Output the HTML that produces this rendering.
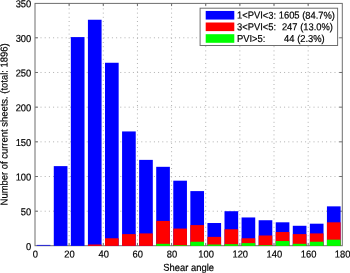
<!DOCTYPE html>
<html><head><meta charset="utf-8"><style>
html,body{margin:0;padding:0;background:#fff;width:350px;height:273px;overflow:hidden}
svg{display:block;will-change:transform;}
text{font-family:"Liberation Sans",sans-serif;font-size:9.4px;fill:#000;stroke:#000;stroke-width:0.18px;text-rendering:geometricPrecision;font-kerning:none}
</style></head><body>
<svg width="350" height="273" viewBox="0 0 350 273">
<rect x="0" y="0" width="350" height="273" fill="#fff"/>
<g stroke="#b0b0b0" stroke-width="1" stroke-dasharray="1 3.2" stroke-dashoffset="2.9" fill="none"><line x1="69.14" y1="245.90" x2="69.14" y2="3.10"/><line x1="103.29" y1="245.90" x2="103.29" y2="3.10"/><line x1="137.43" y1="245.90" x2="137.43" y2="3.10"/><line x1="171.58" y1="245.90" x2="171.58" y2="3.10"/><line x1="205.72" y1="245.90" x2="205.72" y2="3.10"/><line x1="239.87" y1="245.90" x2="239.87" y2="3.10"/><line x1="274.01" y1="245.90" x2="274.01" y2="3.10"/><line x1="308.16" y1="245.90" x2="308.16" y2="3.10"/><line x1="35.00" y1="211.21" x2="342.30" y2="211.21"/><line x1="35.00" y1="176.53" x2="342.30" y2="176.53"/><line x1="35.00" y1="141.84" x2="342.30" y2="141.84"/><line x1="35.00" y1="107.16" x2="342.30" y2="107.16"/><line x1="35.00" y1="72.47" x2="342.30" y2="72.47"/><line x1="35.00" y1="37.79" x2="342.30" y2="37.79"/></g>
<g stroke="#6e6e6e" stroke-width="1" fill="none"><rect x="35.00" y="3.40" width="307.30" height="242.30"/><line x1="69.14" y1="245.90" x2="69.14" y2="242.90"/><line x1="69.14" y1="3.10" x2="69.14" y2="6.10"/><line x1="103.29" y1="245.90" x2="103.29" y2="242.90"/><line x1="103.29" y1="3.10" x2="103.29" y2="6.10"/><line x1="137.43" y1="245.90" x2="137.43" y2="242.90"/><line x1="137.43" y1="3.10" x2="137.43" y2="6.10"/><line x1="171.58" y1="245.90" x2="171.58" y2="242.90"/><line x1="171.58" y1="3.10" x2="171.58" y2="6.10"/><line x1="205.72" y1="245.90" x2="205.72" y2="242.90"/><line x1="205.72" y1="3.10" x2="205.72" y2="6.10"/><line x1="239.87" y1="245.90" x2="239.87" y2="242.90"/><line x1="239.87" y1="3.10" x2="239.87" y2="6.10"/><line x1="274.01" y1="245.90" x2="274.01" y2="242.90"/><line x1="274.01" y1="3.10" x2="274.01" y2="6.10"/><line x1="308.16" y1="245.90" x2="308.16" y2="242.90"/><line x1="308.16" y1="3.10" x2="308.16" y2="6.10"/><line x1="35.00" y1="211.21" x2="38.00" y2="211.21"/><line x1="342.30" y1="211.21" x2="339.30" y2="211.21"/><line x1="35.00" y1="176.53" x2="38.00" y2="176.53"/><line x1="342.30" y1="176.53" x2="339.30" y2="176.53"/><line x1="35.00" y1="141.84" x2="38.00" y2="141.84"/><line x1="342.30" y1="141.84" x2="339.30" y2="141.84"/><line x1="35.00" y1="107.16" x2="38.00" y2="107.16"/><line x1="342.30" y1="107.16" x2="339.30" y2="107.16"/><line x1="35.00" y1="72.47" x2="38.00" y2="72.47"/><line x1="342.30" y1="72.47" x2="339.30" y2="72.47"/><line x1="35.00" y1="37.79" x2="38.00" y2="37.79"/><line x1="342.30" y1="37.79" x2="339.30" y2="37.79"/></g>
<g><rect x="36.71" y="244.90" width="13.66" height="1.0" fill="#2626d8"/><rect x="53.78" y="166.12" width="13.66" height="79.78" fill="#0000ff"/><rect x="70.85" y="37.09" width="13.66" height="208.81" fill="#0000ff"/><rect x="87.92" y="19.75" width="13.66" height="226.15" fill="#0000ff"/><rect x="87.92" y="244.51" width="13.66" height="1.39" fill="#ff0000"/><rect x="105.00" y="62.76" width="13.66" height="183.14" fill="#0000ff"/><rect x="105.00" y="238.27" width="13.66" height="7.63" fill="#ff0000"/><rect x="122.07" y="131.44" width="13.66" height="114.46" fill="#0000ff"/><rect x="122.07" y="234.11" width="13.66" height="11.79" fill="#ff0000"/><rect x="139.14" y="159.88" width="13.66" height="86.02" fill="#0000ff"/><rect x="139.14" y="233.41" width="13.66" height="12.49" fill="#ff0000"/><rect x="156.21" y="166.82" width="13.66" height="79.08" fill="#0000ff"/><rect x="156.21" y="220.93" width="13.66" height="24.97" fill="#ff0000"/><rect x="156.21" y="243.82" width="13.66" height="2.08" fill="#00ff00"/><rect x="173.28" y="180.69" width="13.66" height="65.21" fill="#0000ff"/><rect x="173.28" y="228.56" width="13.66" height="17.34" fill="#ff0000"/><rect x="173.28" y="245.21" width="13.66" height="0.69" fill="#00ff00"/><rect x="190.36" y="191.10" width="13.66" height="54.80" fill="#0000ff"/><rect x="190.36" y="225.09" width="13.66" height="20.81" fill="#ff0000"/><rect x="190.36" y="241.74" width="13.66" height="4.16" fill="#00ff00"/><rect x="207.43" y="223.01" width="13.66" height="22.89" fill="#0000ff"/><rect x="207.43" y="236.88" width="13.66" height="9.02" fill="#ff0000"/><rect x="207.43" y="244.51" width="13.66" height="1.39" fill="#00ff00"/><rect x="224.50" y="211.21" width="13.66" height="34.69" fill="#0000ff"/><rect x="224.50" y="229.25" width="13.66" height="16.65" fill="#ff0000"/><rect x="224.50" y="244.17" width="13.66" height="1.73" fill="#00ff00"/><rect x="241.57" y="217.46" width="13.66" height="28.44" fill="#0000ff"/><rect x="241.57" y="238.27" width="13.66" height="7.63" fill="#ff0000"/><rect x="241.57" y="243.13" width="13.66" height="2.77" fill="#00ff00"/><rect x="258.65" y="220.23" width="13.66" height="25.67" fill="#0000ff"/><rect x="258.65" y="235.49" width="13.66" height="10.41" fill="#ff0000"/><rect x="258.65" y="245.21" width="13.66" height="0.69" fill="#00ff00"/><rect x="275.72" y="222.31" width="13.66" height="23.59" fill="#0000ff"/><rect x="275.72" y="232.03" width="13.66" height="13.87" fill="#ff0000"/><rect x="275.72" y="241.04" width="13.66" height="4.86" fill="#00ff00"/><rect x="292.79" y="225.78" width="13.66" height="20.12" fill="#0000ff"/><rect x="292.79" y="234.11" width="13.66" height="11.79" fill="#ff0000"/><rect x="292.79" y="243.82" width="13.66" height="2.08" fill="#00ff00"/><rect x="309.86" y="223.70" width="13.66" height="22.20" fill="#0000ff"/><rect x="309.86" y="233.41" width="13.66" height="12.49" fill="#ff0000"/><rect x="309.86" y="241.74" width="13.66" height="4.16" fill="#00ff00"/><rect x="326.94" y="206.36" width="13.66" height="39.54" fill="#0000ff"/><rect x="326.94" y="222.31" width="13.66" height="23.59" fill="#ff0000"/><rect x="326.94" y="239.66" width="13.66" height="6.24" fill="#00ff00"/></g>
<text transform="matrix(1 0.001 0 1.07 31.30 250.00)" text-anchor="end">0</text><text transform="matrix(1 0.001 0 1.07 31.30 215.31)" text-anchor="end">50</text><text transform="matrix(1 0.001 0 1.07 31.30 180.63)" text-anchor="end">100</text><text transform="matrix(1 0.001 0 1.07 31.30 145.94)" text-anchor="end">150</text><text transform="matrix(1 0.001 0 1.07 31.30 111.26)" text-anchor="end">200</text><text transform="matrix(1 0.001 0 1.07 31.30 76.57)" text-anchor="end">250</text><text transform="matrix(1 0.001 0 1.07 31.30 41.89)" text-anchor="end">300</text><text transform="matrix(1 0.001 0 1.07 31.30 7.20)" text-anchor="end">350</text><text transform="matrix(1 0.001 0 1.07 35.40 257.50)" text-anchor="middle">0</text><text transform="matrix(1 0.001 0 1.07 69.54 257.50)" text-anchor="middle">20</text><text transform="matrix(1 0.001 0 1.07 103.69 257.50)" text-anchor="middle">40</text><text transform="matrix(1 0.001 0 1.07 137.83 257.50)" text-anchor="middle">60</text><text transform="matrix(1 0.001 0 1.07 171.98 257.50)" text-anchor="middle">80</text><text transform="matrix(1 0.001 0 1.07 206.12 257.50)" text-anchor="middle">100</text><text transform="matrix(1 0.001 0 1.07 240.27 257.50)" text-anchor="middle">120</text><text transform="matrix(1 0.001 0 1.07 274.41 257.50)" text-anchor="middle">140</text><text transform="matrix(1 0.001 0 1.07 308.56 257.50)" text-anchor="middle">160</text><text transform="matrix(1 0.001 0 1.07 342.70 257.50)" text-anchor="middle">180</text>
<text transform="matrix(1 0.001 0 1.07 188.65 270.90)" text-anchor="middle">Shear angle</text>
<text transform="translate(7.50 124.40) rotate(-90) matrix(1.006 0.001 0 1.07 0 0)" text-anchor="middle">Number of current sheets. (total: 1896)</text>
<rect x="200.1" y="8.2" width="137.50" height="37.30" fill="#fff" stroke="#6e6e6e" stroke-width="1"/>
<rect x="205.7" y="10.95" width="28.6" height="8.6" fill="#0000ff"/><rect x="205.7" y="22.5" width="28.6" height="8.6" fill="#ff0000"/><rect x="205.7" y="34.2" width="28.6" height="8.6" fill="#00ff00"/><text transform="matrix(1 0.001 0 1.07 237.00 18.60)" text-anchor="start">1&lt;PVI&lt;3:</text><text transform="matrix(1 0.001 0 1.07 278.70 18.60)" text-anchor="start">1605 (84.7%)</text><text transform="matrix(1 0.001 0 1.07 237.00 30.30)" text-anchor="start">3&lt;PVI&lt;5:</text><text transform="matrix(1 0.001 0 1.07 281.90 30.30)" text-anchor="start">247 (13.0%)</text><text transform="matrix(1 0.001 0 1.07 237.00 42.00)" text-anchor="start">PVI&gt;5:</text><text transform="matrix(1 0.001 0 1.07 284.10 42.00)" text-anchor="start">44 (2.3%)</text>
</svg>
</body></html>
